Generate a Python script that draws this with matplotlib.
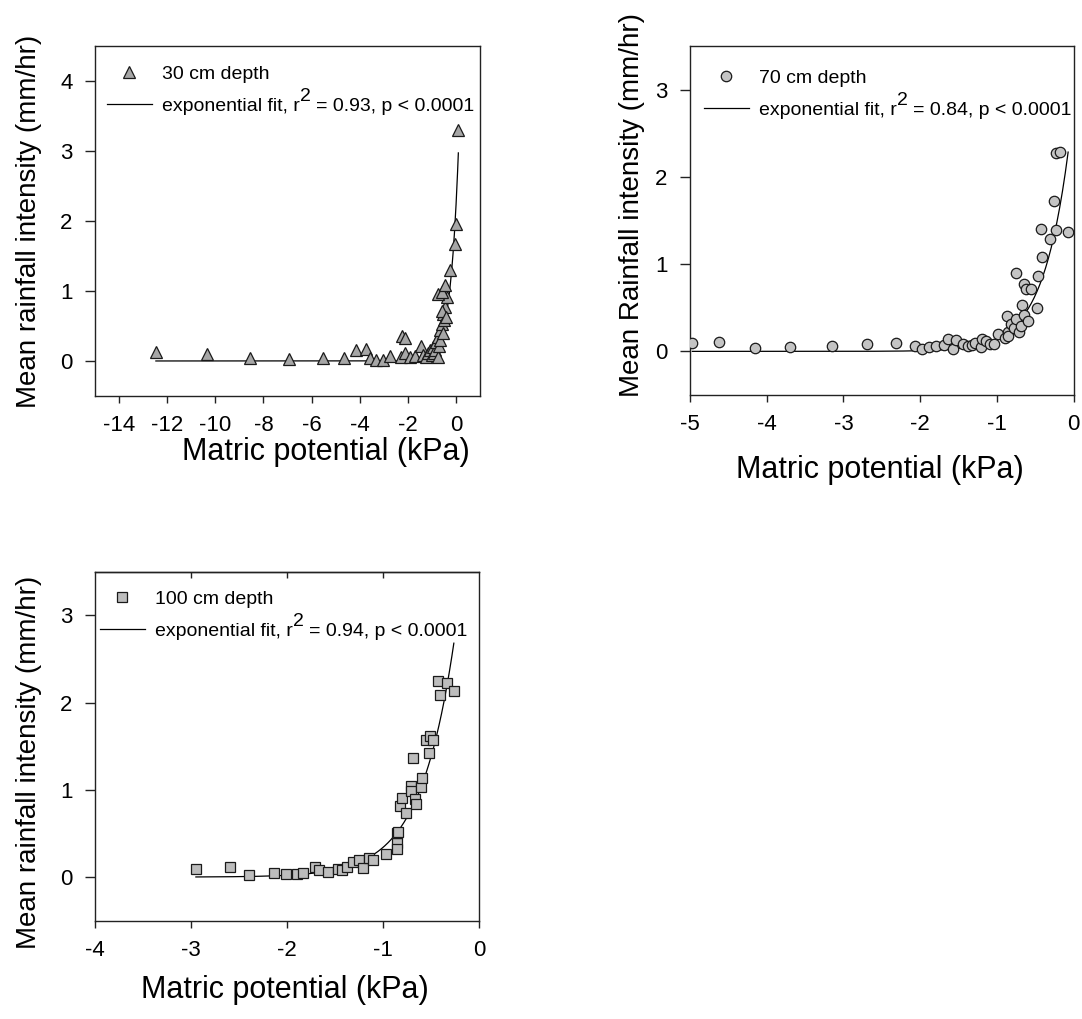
import numpy as np
import matplotlib
matplotlib.use('Agg')
import matplotlib.pyplot as plt

plt.rcParams['font.family'] = ['Liberation Sans', 'DejaVu Sans']

# ---------------- data ----------------
d30_x = [-12.47, -10.36, -8.55, -6.95, -5.53, -4.67, -4.17, -3.75, -3.58, -3.33,
         -3.03, -2.75, -2.26, -2.13, -2.30, -2.13, -1.92, -1.71, -1.46, -1.36,
         -1.25, -1.15, -1.08, -1.00, -0.94, -0.90, -0.85, -0.74, -0.81, -0.74,
         -0.70, -0.67, -0.65, -0.60, -0.55, -0.53, -0.50, -0.46, -0.60, -0.42,
         -0.39, -0.74, -0.57, -0.46, -0.25, -0.04, 0.00, 0.10]
d30_y = [0.13, 0.095, 0.04, 0.03, 0.04, 0.045, 0.15, 0.17, 0.04, 0.02,
         0.02, 0.07, 0.35, 0.33, 0.05, 0.11, 0.06, 0.07, 0.21, 0.08,
         0.05, 0.11, 0.15, 0.08, 0.20, 0.12, 0.16, 0.06, 0.27, 0.34,
         0.22, 0.44, 0.30, 0.53, 0.40, 0.67, 0.58, 0.77, 0.72, 0.63,
         0.91, 0.96, 0.98, 1.08, 1.30, 1.67, 1.95, 3.29]

d70_x = [-4.97, -4.62, -4.15, -3.70, -3.15, -2.69, -2.32, -2.06, -1.97, -1.89,
         -1.79, -1.69, -1.64, -1.57, -1.53, -1.44, -1.38, -1.32, -1.28, -1.21,
         -1.19, -1.14, -1.09, -1.03, -0.99, -0.89, -0.87, -0.86, -0.85, -0.81,
         -0.77, -0.75, -0.71, -0.68, -0.67, -0.64, -0.59, -0.75, -0.64, -0.62,
         -0.55, -0.47, -0.46, -0.41, -0.43, -0.31, -0.26, -0.23, -0.07, -0.23,
         -0.17]
d70_y = [0.095, 0.11, 0.04, 0.05, 0.06, 0.08, 0.10, 0.06, 0.03, 0.045,
         0.065, 0.075, 0.14, 0.03, 0.13, 0.085, 0.065, 0.075, 0.10, 0.045,
         0.14, 0.12, 0.09, 0.085, 0.20, 0.15, 0.40, 0.22, 0.18, 0.31,
         0.27, 0.37, 0.22, 0.29, 0.53, 0.42, 0.35, 0.90, 0.77, 0.71,
         0.71, 0.50, 0.86, 1.08, 1.40, 1.29, 1.72, 1.39, 1.37, 2.27,
         2.29]

d100_x = [-2.95, -2.60, -2.40, -2.14, -2.01, -1.895, -1.83, -1.71, -1.67, -1.58,
          -1.47, -1.43, -1.38, -1.31, -1.25, -1.21, -1.146, -1.11, -0.97, -0.86,
          -0.855, -0.855, -0.85, -0.83, -0.80, -0.76, -0.715, -0.71, -0.67, -0.66,
          -0.69, -0.61, -0.60, -0.52, -0.55, -0.51, -0.48, -0.43, -0.335, -0.41,
          -0.265]
d100_y = [0.096, 0.115, 0.027, 0.046, 0.038, 0.038, 0.046, 0.12, 0.084, 0.054,
          0.096, 0.084, 0.12, 0.17, 0.19, 0.107, 0.22, 0.19, 0.27, 0.39,
          0.50, 0.325, 0.52, 0.81, 0.91, 0.73, 1.04, 0.99, 0.90, 0.84,
          1.36, 1.03, 1.13, 1.42, 1.57, 1.62, 1.57, 2.25, 2.22, 2.09,
          2.13]

# exponential fit parameters y = a * exp(b * x)
fit30 = (2.2, 3.0)
fit70 = (2.81, 2.96)
fit100 = (5.63, 2.8)

r2_values = ['0.93', '0.84', '0.94']
labels_depth = ['30 cm depth', '70 cm depth', '100 cm depth']
xticks30 = [-14, -12, -10, -8, -6, -4, -2, 0]
xticks70 = [-5, -4, -3, -2, -1, 0]
xticks100 = [-4, -3, -2, -1, 0]

# ---------------- figure ----------------
W, H = 1082, 1019
fig = plt.figure(figsize=(W / 100, H / 100), dpi=100)
renderer = fig.canvas.get_renderer()
LEG_FS = 14

_tmp = fig.text(0, 0, 'exponential fit, r', fontsize=LEG_FS)
PREFIX_W = _tmp.get_window_extent(renderer).width
_tmp.remove()


def px_axes(l, t, r, b):
    return fig.add_axes([l / W, 1 - b / H, (r - l) / W, (b - t) / H])


def style(ax, xlim, ylim, xticks, yticks):
    ax.set_xlim(*xlim)
    ax.set_ylim(*ylim)
    ax.set_xticks(xticks)
    ax.set_yticks(yticks)
    ax.set_xticklabels([str(t) for t in xticks])
    ax.set_yticklabels([str(t) for t in yticks])
    for s in ax.spines.values():
        s.set_linewidth(1.0)
        s.set_color('#222222')
    ax.tick_params(axis='x', direction='out', length=5, width=1.0,
                   labelsize=16, pad=9, color='#222222')
    ax.tick_params(axis='y', direction='out', length=7.2, width=1.0,
                   labelsize=16, pad=9, color='#222222')


def panel(ax, x, y, fit, marker, ms, fc, lab_d, r2, leg_px):
    ax.plot(x, y, ls='none', marker=marker, ms=ms, mfc=fc, mec='#1a1a1a',
            mew=0.9, label=lab_d, zorder=3)
    xs = np.linspace(min(x), max(x), 400)
    lab_f = 'exponential fit, r   = %s, p < 0.0001' % r2
    ax.plot(xs, fit[0] * np.exp(fit[1] * xs), color='black', lw=0.9,
            label=lab_f, zorder=2)
    leg = ax.legend(loc='upper left',
                    bbox_to_anchor=(leg_px[0] / W, 1 - leg_px[1] / H),
                    bbox_transform=fig.transFigure, frameon=False,
                    fontsize=LEG_FS, handlelength=2.3, handletextpad=0.55,
                    borderpad=0, borderaxespad=0, labelspacing=0.75,
                    numpoints=1)
    t = leg.get_texts()[1]
    ax.annotate('2', xy=(0, 0), xycoords=t, xytext=(PREFIX_W, 10),
                textcoords='offset pixels', fontsize=LEG_FS, ha='left',
                va='bottom', zorder=10)


# Panel 1: 30 cm
ax1 = px_axes(95, 45.7, 480, 396)
panel(ax1, d30_x, d30_y, fit30, '^', 8.6, '#a6a6a6', labels_depth[0],
      r2_values[0], (107, 65))
style(ax1, (-15, 1), (-0.5, 4.5), xticks30, [0, 1, 2, 3, 4])

# Panel 2: 70 cm
ax2 = px_axes(690, 46, 1073.5, 395)
panel(ax2, d70_x, d70_y, fit70, 'o', 7.5, '#c4c4c4', labels_depth[1],
      r2_values[1], (704, 69))
style(ax2, (-5, 0), (-0.5, 3.5), xticks70, [0, 1, 2, 3])

# Panel 3: 100 cm
ax3 = px_axes(95, 571.7, 479.3, 920.7)
panel(ax3, d100_x, d100_y, fit100, 's', 6.9, '#bdbdbd', labels_depth[2],
      r2_values[2], (100, 590))
style(ax3, (-4, 0), (-0.5, 3.5), xticks100, [0, 1, 2, 3])
sec = ax3.secondary_xaxis('top')
sec.set_xticks([-3, -2, -1])
sec.tick_params(direction='in', length=4, width=1.0, labeltop=False,
                color='#222222')
sec.spines['top'].set_linewidth(1.0)
sec.spines['top'].set_color('#222222')

# Axis labels
fig.text(326 / W, 1 - 452 / H, 'Matric potential (kPa)', ha='center',
         va='center', fontsize=22)
fig.text(880 / W, 1 - 470 / H, 'Matric potential (kPa)', ha='center',
         va='center', fontsize=22)
fig.text(285 / W, 1 - 990 / H, 'Matric potential (kPa)', ha='center',
         va='center', fontsize=22)
fig.text(29 / W, 1 - 221 / H, 'Mean rainfall intensity (mm/hr)', rotation=90,
         ha='center', va='center', fontsize=20)
fig.text(632 / W, 1 - 205 / H, 'Mean Rainfall intensity (mm/hr)', rotation=90,
         ha='center', va='center', fontsize=20)
fig.text(29 / W, 1 - 762 / H, 'Mean rainfall intensity (mm/hr)', rotation=90,
         ha='center', va='center', fontsize=20)

fig.canvas.draw()
fig.savefig('out.png', dpi=100)
